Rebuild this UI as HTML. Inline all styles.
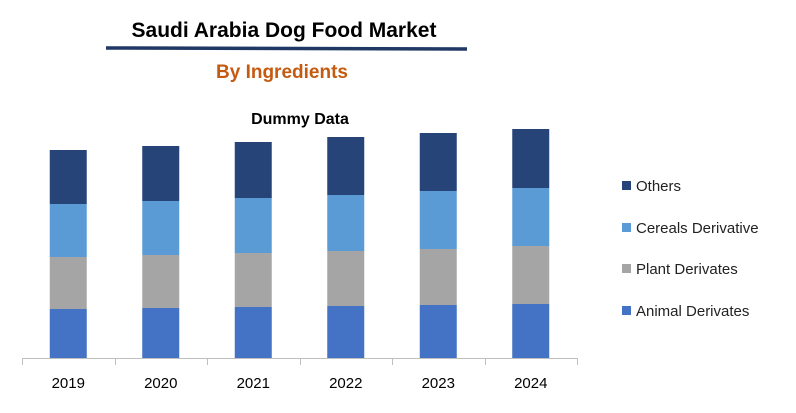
<!DOCTYPE html>
<html><head><meta charset="utf-8">
<style>
body{margin:0;background:#fff;}
svg{display:block;font-family:"Liberation Sans",Calibri,sans-serif;}
</style></head>
<body>
<svg width="796" height="413" xmlns="http://www.w3.org/2000/svg">
<text x="284" y="37" text-anchor="middle" font-size="21" font-weight="bold" fill="#000">Saudi Arabia Dog Food Market</text>
<line x1="106" y1="48" x2="467" y2="49" stroke="#203864" stroke-width="3.5"/>
<text x="282" y="78" text-anchor="middle" font-size="19" font-weight="bold" fill="#C55A11">By Ingredients</text>
<text x="300" y="124" text-anchor="middle" font-size="16" font-weight="bold" fill="#000">Dummy Data</text>
<g id="plot"></g>
<g id="legend"></g>
</svg>
<script>
const categories=["2019","2020","2021","2022","2023","2024"];
const animal=[49,50,51,52,53,54];
const plant=[52,53,54,55,56,58];
const cereals=[53,54,55,56,58,58];
const others=[54,55,56,58,58,59];
const seriesNames=["Animal Derivates","Plant Derivates","Cereals Derivative","Others"];
const colors=["#4472C4","#A5A5A5","#5B9BD5","#264478"];
const NS="http://www.w3.org/2000/svg";
const plot=document.getElementById('plot');
const x0=22,x1=577,base=358;
const step=(x1-x0)/categories.length;
const bw=37;
function xScale(i){return x0+step*(i+0.5);}
function yScale(v){return base-v;}
const series=[animal,plant,cereals,others];
categories.forEach((c,i)=>{
  let acc=0;
  series.forEach((s,k)=>{
    const r=document.createElementNS(NS,'rect');
    r.setAttribute('x',xScale(i)-bw/2);
    r.setAttribute('y',yScale(acc+s[i]));
    r.setAttribute('width',bw);
    r.setAttribute('height',s[i]);
    r.setAttribute('fill',colors[k]);
    
    
    plot.appendChild(r);
    acc+=s[i];
  });
  const t=document.createElementNS(NS,'text');
  t.setAttribute('x',xScale(i));t.setAttribute('y',388);
  t.setAttribute('text-anchor','middle');t.setAttribute('font-size','15');
  t.textContent=c;
  
  
  plot.appendChild(t);
});
const ax=document.createElementNS(NS,'line');
ax.setAttribute('x1',x0);ax.setAttribute('x2',x1);ax.setAttribute('y1',base+0.5);ax.setAttribute('y2',base+0.5);
ax.setAttribute('stroke','#bfbfbf');


plot.appendChild(ax);
for(let i=0;i<=categories.length;i++){
  const tk=document.createElementNS(NS,'line');
  const xx=Math.round(x0+step*i)+0.5;
  tk.setAttribute('x1',xx);tk.setAttribute('x2',xx);tk.setAttribute('y1',base);tk.setAttribute('y2',base+7);
  tk.setAttribute('stroke','#bfbfbf');
  
  
  plot.appendChild(tk);
}
const lg=document.getElementById('legend');
const ly=[311,269,228,186];
seriesNames.forEach((n,k)=>{
  const r=document.createElementNS(NS,'rect');
  r.setAttribute('x',622);r.setAttribute('y',ly[k]-5);r.setAttribute('width',9);r.setAttribute('height',9);
  r.setAttribute('fill',colors[k]);
  
  
  lg.appendChild(r);
  const t=document.createElementNS(NS,'text');
  t.setAttribute('x',636);t.setAttribute('y',ly[k]+5);t.setAttribute('font-size','15');t.setAttribute('fill','#222');
  t.textContent=n;
  
  
  lg.appendChild(t);
});
</script>
</body></html>
